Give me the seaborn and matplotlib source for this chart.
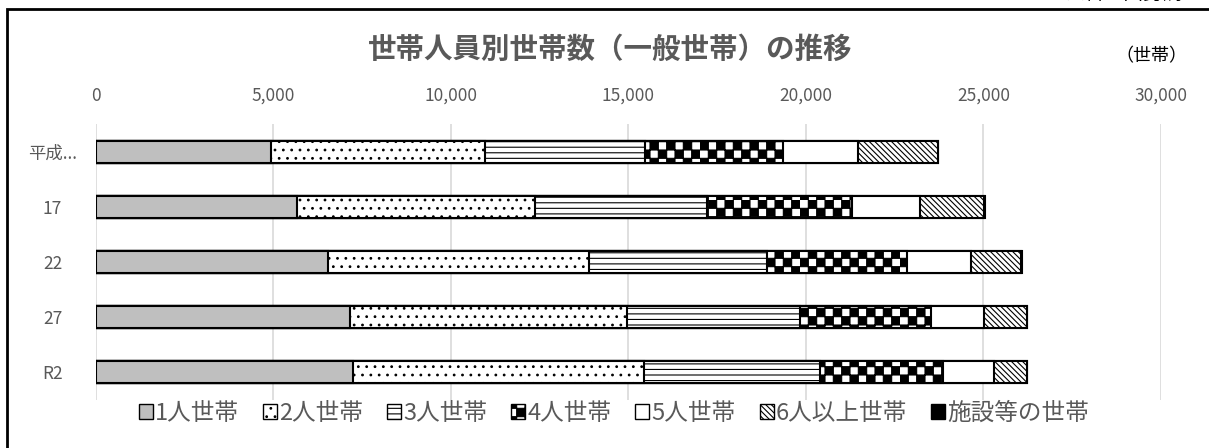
import warnings
import numpy as np
import pandas as pd
import matplotlib
matplotlib.use("Agg")
import matplotlib.pyplot as plt
import matplotlib.hatch as mhatch
from matplotlib.path import Path
from matplotlib.patches import Patch, Rectangle
from matplotlib.ticker import FuncFormatter
import seaborn as sns

warnings.filterwarnings("ignore")

# データ(国勢調査・一般世帯)
years = ["平成...", "17", "22", "27", "R2"]
hh_1 = [4930, 5662, 6535, 7150, 7245]
hh_2 = [6036, 6713, 7355, 7822, 8208]
hh_3 = [4507, 4836, 5019, 4858, 4930]
hh_4 = [3879, 4085, 3931, 3685, 3465]
hh_5 = [2113, 1924, 1796, 1511, 1437]
hh_6 = [2242, 1803, 1434, 1188, 929]
hh_inst = [15, 12, 14, 18, 20]
series_names = ["1人世帯", "2人世帯", "3人世帯", "4人世帯", "5人世帯", "6人以上世帯", "施設等の世帯"]
x_ticks = [0, 5000, 10000, 15000, 20000, 25000, 30000]


# 市松模様のハッチ('#')を追加
class CheckerHatch(mhatch.HatchPatternBase):
    def __init__(self, hatch, density):
        self.n = hatch.count('#') * density
        self.cells = [(i, j) for i in range(self.n) for j in range(self.n) if (i + j) % 2 == 0]
        self.num_vertices = 5 * len(self.cells)

    def set_vertices_and_codes(self, vertices, codes):
        s = 1.0 / self.n
        for k, (i, j) in enumerate(self.cells):
            x0, y0 = i * s, j * s
            vertices[5 * k:5 * k + 5] = [(x0, y0), (x0 + s, y0), (x0 + s, y0 + s), (x0, y0 + s), (x0, y0)]
            codes[5 * k:5 * k + 5] = [Path.MOVETO, Path.LINETO, Path.LINETO, Path.LINETO, Path.CLOSEPOLY]


mhatch._hatch_types.append(CheckerHatch)

sns.set_style("white")
plt.rcParams['font.family'] = ['Noto Sans CJK JP', 'DejaVu Sans']
plt.rcParams['hatch.linewidth'] = 0.8

fills = ['#BFBFBF', 'white', 'white', 'white', 'white', 'white', 'black']
hatches = [None, '..', '---', '##', None, '\\\\\\\\\\\\', None]

df = pd.DataFrame({"year": years})
series = [hh_1, hh_2, hh_3, hh_4, hh_5, hh_6, hh_inst]
cum = np.cumsum(np.array(series), axis=0)

fig = plt.figure(figsize=(12.09, 4.48), dpi=100)
ax = fig.add_axes([95.7 / 1209, 48.5 / 448, (1161 - 95.7) / 1209, 275 / 448])

# 累積値を長い順に重ねて積み上げ横棒にする
for k in range(len(series) - 1, -1, -1):
    df["v"] = cum[k]
    sns.barplot(data=df, x="v", y="year", orient="h", color=fills[k], saturation=1,
                width=0.4, edgecolor='black', linewidth=1.5, ax=ax)
    if hatches[k]:
        for p in ax.containers[-1]:
            p.set_hatch(hatches[k])

ax.set_xlim(0, 30000)
ax.set_xticks(x_ticks)
ax.xaxis.set_major_formatter(FuncFormatter(lambda v, p: f"{int(v):,}"))
ax.xaxis.tick_top()
ax.tick_params(axis='x', length=0, pad=14, labelsize=12.5, labelcolor='#595959')
ax.tick_params(axis='y', length=0, pad=31, labelsize=12.5, labelcolor='#595959')
for t in ax.get_yticklabels():
    t.set_ha('center')
ax.set_xlabel("")
ax.set_ylabel("")
ax.xaxis.grid(True, color='#D9D9D9', lw=1.2)
ax.set_axisbelow(True)
for s in ax.spines.values():
    s.set_visible(False)

fig.text(0.5045, 1 - 50 / 448, "世帯人員別世帯数（一般世帯）の推移", ha='center', va='center',
         fontsize=20.5, fontweight='bold', color='#595959')
fig.text(1151 / 1209, 1 - 56 / 448, "（世帯）", ha='center', va='center', fontsize=13, color='black')
fig.text(1065 / 1209, 1 - 4 / 448, "資料：国勢調査", ha='left', va='bottom', fontsize=14, color='black')

handles = [Patch(facecolor=fills[k], edgecolor='black', hatch=hatches[k], lw=1.0) for k in range(len(series))]
fig.legend(handles, series_names, loc='center', bbox_to_anchor=(614 / 1209, 1 - 413 / 448), ncol=7,
           frameon=False, fontsize=17, labelcolor='#595959', handlelength=0.6, handleheight=0.6,
           handletextpad=0.1, columnspacing=1.0)

fig.patches.append(Rectangle((7 / 1209, -0.1), 1.2, 1 - 9 / 448 + 0.1, transform=fig.transFigure,
                             fill=False, edgecolor='black', lw=2, clip_on=False))

plt.savefig('out.png', dpi=100)
plt.close()
